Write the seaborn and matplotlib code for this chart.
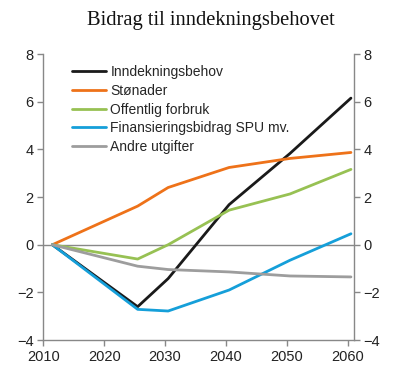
import matplotlib
matplotlib.use('Agg')
import matplotlib.pyplot as plt
import seaborn as sns
import pandas as pd

# Values (prosent av BNP)
years = [2011, 2025, 2030, 2040, 2050, 2060]
inndekning = [0, -2.6, -1.42, 1.68, 3.83, 6.15]
stonader = [0, 1.62, 2.4, 3.24, 3.62, 3.87]
offentlig = [0, -0.6, 0.0, 1.45, 2.13, 3.16]
finans = [0, -2.71, -2.78, -1.9, -0.65, 0.46]
andre = [0, -0.9, -1.04, -1.14, -1.31, -1.35]

series = ['Inndekningsbehov', 'Stønader', 'Offentlig forbruk',
          'Finansieringsbidrag SPU mv.', 'Andre utgifter']
colors = ['#1a1a1a', '#ee7219', '#97c153', '#159fd9', '#9d9d9d']

df = pd.DataFrame({'year': years,
                   series[0]: inndekning,
                   series[1]: stonader,
                   series[2]: offentlig,
                   series[3]: finans,
                   series[4]: andre})
long = df.melt(id_vars='year', var_name='serie', value_name='verdi')
long['x'] = long['year'] + 0.5

sns.set_style('white')
plt.rcParams['font.family'] = ['Liberation Sans', 'DejaVu Sans']

fig, ax = plt.subplots(figsize=(4.0, 3.83), dpi=100)
fig.subplots_adjust(left=0.108, right=0.885, top=0.859, bottom=0.112)

ax.axhline(0, color='#888888', lw=1.0, zorder=1)
sns.lineplot(data=long, x='x', y='verdi', hue='serie', hue_order=series,
             palette=colors, linewidth=2.0, ax=ax, zorder=3)

ax.set_xlim(2010, 2061)
ax.set_ylim(-4, 8)
ax.set_xticks(range(2010, 2061, 10))
ax.set_yticks(range(-4, 9, 2))
ax.set_xlabel('')
ax.set_ylabel('')

ax.spines['top'].set_visible(False)
for s in ['left', 'right', 'bottom']:
    ax.spines[s].set_color('#888888')
    ax.spines[s].set_linewidth(1.0)

ax.tick_params(axis='both', direction='out', length=4, width=1.0,
               color='#888888', labelsize=10.5, labelcolor='#222222')
ax.tick_params(axis='y', left=True, right=True, labelleft=True,
               labelright=True, pad=3)
ax.tick_params(axis='x', bottom=True, pad=3)

fig.text(0.528, 0.947, 'Bidrag til inndekningsbehovet', family='Liberation Serif',
         fontsize=14.8, color='#111111', ha='center', va='center')

leg = ax.legend(loc='upper left', bbox_to_anchor=(0.06, 0.995), frameon=False,
                fontsize=10, handlelength=2.5, handletextpad=0.3,
                labelspacing=0.34, borderaxespad=0.3)
for line in leg.get_lines():
    line.set_linewidth(2.0)

plt.savefig('out.png', dpi=100)
